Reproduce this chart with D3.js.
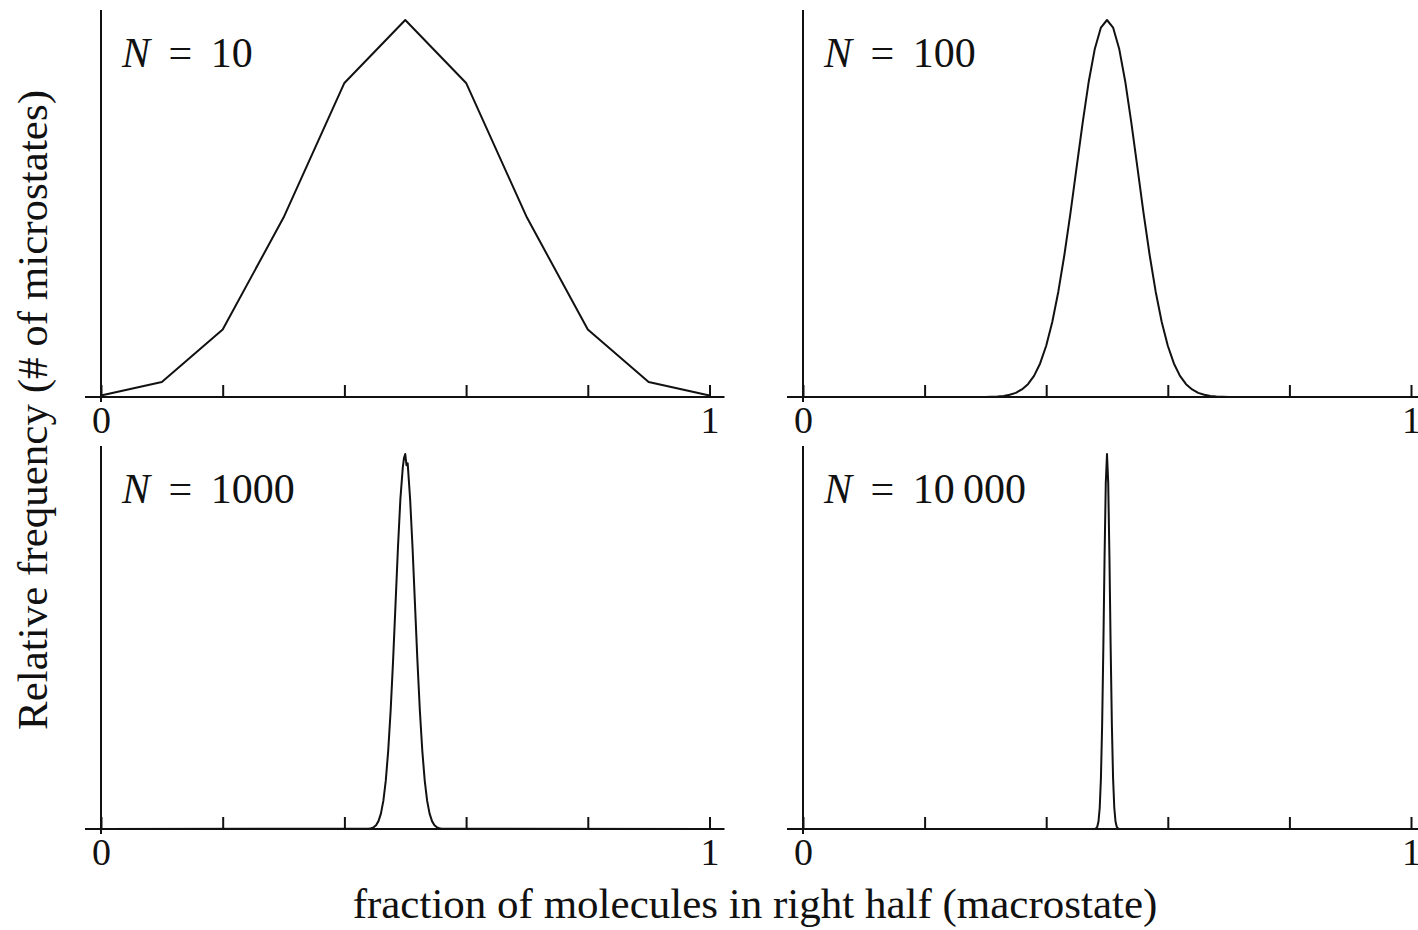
<!DOCTYPE html>
<html>
<head>
<meta charset="utf-8">
<script src="https://cdn.jsdelivr.net/npm/d3@7"></script>
<style>
  html, body { margin: 0; padding: 0; background: #fff; }
  svg text { font-family: "Liberation Serif", "Times New Roman", serif; fill: #111; }
</style>
</head>
<body>
<svg id="chart" width="1418" height="930"></svg>
<script>
// ---- data ----
const panelLabels = ["10", "100", "1000", "10\u2009000"];
const tickValues = [0, 0.2, 0.4, 0.6, 0.8, 1];
const tickLabels = ["0", "", "", "", "", "1"];
const xTitle = "fraction of molecules in right half (macrostate)";
const yTitle = "Relative frequency (# of microstates)";

// N = 10
const x10 = [0, 0.1, 0.2, 0.3, 0.4, 0.5, 0.6, 0.7, 0.8, 0.9, 1];
const y10 = [0.004, 0.040, 0.179, 0.476, 0.833, 1, 0.833, 0.476, 0.179, 0.040, 0.004];

// N = 100
const x100 = [0, 0.30, 0.31, 0.32, 0.33, 0.34, 0.35, 0.36, 0.37, 0.38, 0.39, 0.40, 0.41, 0.42, 0.43, 0.44, 0.45, 0.46, 0.47, 0.48, 0.49,
              0.50, 0.51, 0.52, 0.53, 0.54, 0.55, 0.56, 0.57, 0.58, 0.59, 0.60, 0.61, 0.62, 0.63, 0.64, 0.65, 0.66, 0.67, 0.68, 0.69, 0.70, 1];
const y100 = [0, 0.0003, 0.0007, 0.0014, 0.0029, 0.0058, 0.011, 0.020, 0.034, 0.056, 0.089, 0.136, 0.199, 0.280, 0.378, 0.489, 0.609, 0.728, 0.837, 0.924, 0.980,
              1, 0.980, 0.924, 0.837, 0.728, 0.609, 0.489, 0.378, 0.280, 0.199, 0.136, 0.089, 0.056, 0.034, 0.020, 0.011, 0.0058, 0.0029, 0.0014, 0.0007, 0.0003, 0];

// N = 1000
const x1000 = [0, 0.440, 0.444, 0.448, 0.452, 0.456, 0.460, 0.464, 0.468, 0.472, 0.476, 0.480, 0.484, 0.488, 0.492, 0.496, 0.498,
               0.500, 0.502, 0.504, 0.508, 0.512, 0.516, 0.520, 0.524, 0.528, 0.532, 0.536, 0.540, 0.544, 0.548, 0.552, 0.556, 0.560, 1];
const y1000 = [0, 0.0008, 0.0019, 0.0044, 0.010, 0.021, 0.041, 0.075, 0.129, 0.209, 0.316, 0.449, 0.599, 0.750, 0.880, 0.965, 0.99,
               1, 0.97, 0.975, 0.880, 0.750, 0.599, 0.449, 0.316, 0.209, 0.129, 0.075, 0.041, 0.021, 0.010, 0.0044, 0.0019, 0.0008, 0];

// N = 10 000
const x10000 = [0, 0.480, 0.482, 0.484, 0.486, 0.488, 0.490, 0.492, 0.494, 0.496, 0.498, 0.500,
                0.502, 0.504, 0.506, 0.508, 0.510, 0.512, 0.514, 0.516, 0.518, 0.520, 1];
const y10000 = [0, 0.0003, 0.0015, 0.006, 0.020, 0.056, 0.135, 0.278, 0.487, 0.726, 0.923, 1,
                0.923, 0.726, 0.487, 0.278, 0.135, 0.056, 0.020, 0.006, 0.0015, 0.0003, 0];

const seriesX = [x10, x100, x1000, x10000];
const seriesY = [y10, y100, y1000, y10000];

// ---- layout ----
const cols = [[101, 709.5], [803, 1411]];
const rows = [{base: 397, top: 20, axisTop: 10}, {base: 829, top: 454, axisTop: 446}];

const svg = d3.select("#chart");
const tickFont = 38;
const titleFont = 43;
const labelFont = 42;

seriesX.forEach((xs, i) => {
  const c = cols[i % 2], r = rows[Math.floor(i / 2)];
  const x = d3.scaleLinear().domain([0, 1]).range(c);
  const y = d3.scaleLinear().domain([0, 1]).range([r.base, r.top]);
  const g = svg.append("g");

  // x axis line (extends beyond 0 and 1)
  g.append("line")
    .attr("x1", x(0) - 16).attr("x2", x(1) + 15)
    .attr("y1", r.base).attr("y2", r.base)
    .attr("stroke", "#111").attr("stroke-width", 2);

  // ticks and labels
  const axis = d3.axisBottom(x).tickValues(tickValues)
    .tickFormat((d, k) => tickLabels[k])
    .tickSizeInner(-12).tickSizeOuter(0).tickPadding(9);
  const ag = g.append("g").attr("transform", `translate(0,${r.base})`).call(axis);
  ag.select(".domain").remove();
  ag.selectAll(".tick line").attr("stroke", "#111").attr("stroke-width", 2);
  ag.selectAll(".tick text").attr("font-size", tickFont)
    .attr("font-family", '"Liberation Serif", "Times New Roman", serif').attr("fill", "#111");

  // y axis line
  g.append("line")
    .attr("x1", x(0)).attr("x2", x(0))
    .attr("y1", r.axisTop).attr("y2", r.base + 5)
    .attr("stroke", "#111").attr("stroke-width", 2);

  // curve
  const pts = xs.map((v, k) => [v, seriesY[i][k]]);
  const line = d3.line().x(d => x(d[0])).y(d => y(d[1]));
  g.append("path").datum(pts).attr("d", line)
    .attr("fill", "none").attr("stroke", "#111").attr("stroke-width", 2)
    .attr("stroke-linejoin", "round");

  // panel label
  const t = g.append("text").attr("x", x(0) + 21).attr("y", r.axisTop + 57)
    .attr("font-size", labelFont);
  t.append("tspan").attr("font-style", "italic").text("N");
  t.append("tspan").attr("dx", 8).text(" =");
  t.append("tspan").attr("dx", 8).text(" " + panelLabels[i]);
});

// axis titles
svg.append("text").attr("x", 755).attr("y", 918)
  .attr("text-anchor", "middle").attr("font-size", titleFont).text(xTitle);
svg.append("text").attr("transform", "translate(47,410) rotate(-90)")
  .attr("text-anchor", "middle").attr("font-size", titleFont).text(yTitle);
</script>
</body>
</html>
